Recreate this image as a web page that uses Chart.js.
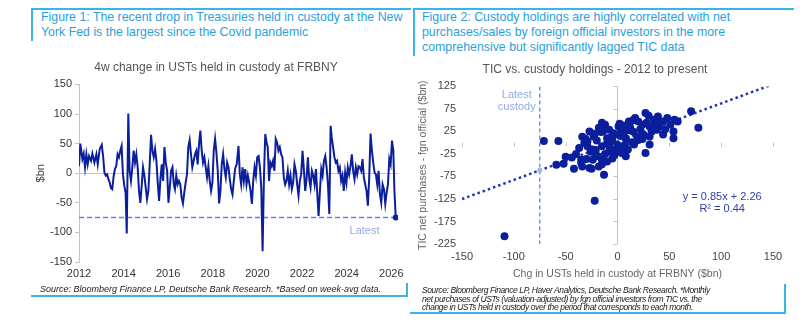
<!DOCTYPE html>
<html>
<head>
<meta charset="utf-8">
<script src="https://cdn.jsdelivr.net/npm/chart.js@4/dist/chart.umd.min.js"></script>
<style>
  html,body{margin:0;padding:0;background:#fff;}
  #wrap{position:relative;width:810px;height:329px;overflow:hidden;font-family:"Liberation Sans",Arial,sans-serif;}
  .box{position:absolute;border-left:2px solid #3ab4e6;border-top:2px solid #3ab4e6;box-sizing:border-box;}
  .ttl{position:absolute;color:#2c9fd9;font-size:12.35px;line-height:15px;white-space:nowrap;}
  .foot{position:absolute;font-style:italic;color:#222;white-space:nowrap;}
  .hl{position:absolute;border-top:2px solid #3ab4e6;height:0;}
  .vl{position:absolute;border-left:2px solid #3ab4e6;width:0;}
  canvas{position:absolute;top:0;}
</style>
</head>
<body>
<div id="wrap">
  <div class="box" style="left:31px;top:8px;width:380px;height:33px;"></div>
  <div class="ttl" style="left:41px;top:10px;">Figure 1: The recent drop in Treasuries held in custody at the New<br>York Fed is the largest since the Covid pandemic</div>
  <div class="box" style="left:413px;top:8px;width:381px;height:48px;"></div>
  <div class="ttl" style="left:422px;top:10px;">Figure 2: Custody holdings are highly correlated with net<br>purchases/sales by foreign official investors in the more<br>comprehensive but significantly lagged TIC data</div>

  <canvas id="c1" width="410" height="329" style="left:0;"></canvas>
  <canvas id="c2" width="400" height="329" style="left:410px;"></canvas>

  <div class="foot" style="left:40px;top:284px;font-size:9px;line-height:11px;">Source: Bloomberg Finance LP, Deutsche Bank Research. *Based on week-avg data.</div>
  <div class="hl" style="left:31px;top:295px;width:377px;"></div>
  <div class="vl" style="left:406px;top:283px;height:14px;"></div>

  <div class="foot" style="left:422px;top:286px;font-size:8.5px;line-height:8.5px;letter-spacing:-0.4px;">Source: Bloomberg Finance LP, Haver Analytics, Deutsche Bank Research. *Monthly<br>net purchases of USTs (valuation-adjusted) by fgn official investors from TIC vs. the<br>change in USTs held in custody over the period that corresponds to each month.</div>
  <div class="hl" style="left:410px;top:312px;width:376px;"></div>
  <div class="vl" style="left:784px;top:284px;height:30px;"></div>
</div>
<script>
// ---------- Figure 1 data ----------
const weekDates = [
  2012.00,2012.06,2012.15,2012.21,2012.27,2012.33,2012.39,2012.45,2012.54,2012.60,
  2012.69,2012.78,2012.84,2012.93,2013.02,2013.08,2013.14,2013.20,2013.26,2013.32,
  2013.38,2013.43,2013.49,2013.55,2013.61,2013.67,2013.73,2013.79,2013.85,2013.91,
  2013.97,2014.03,2014.09,2014.14,2014.21,2014.27,2014.33,2014.39,2014.45,2014.51,
  2014.57,2014.63,2014.69,2014.75,2014.81,2014.87,2014.93,2014.99,2015.05,2015.11,
  2015.17,2015.23,2015.29,2015.35,2015.41,2015.47,2015.53,2015.59,2015.65,2015.71,
  2015.77,2015.83,2015.89,2015.95,2016.01,2016.07,2016.13,2016.19,2016.25,2016.30,
  2016.36,2016.42,2016.48,2016.54,2016.60,2016.66,2016.72,2016.78,2016.84,2016.90,
  2016.96,2017.02,2017.08,2017.14,2017.20,2017.26,2017.32,2017.38,2017.44,2017.50,
  2017.56,2017.62,2017.68,2017.74,2017.80,2017.86,2017.92,2017.98,2018.04,2018.10,
  2018.16,2018.22,2018.28,2018.34,2018.40,2018.46,2018.52,2018.58,2018.64,2018.70,
  2018.76,2018.82,2018.88,2018.94,2019.00,2019.07,2019.15,2019.21,2019.27,2019.33,
  2019.39,2019.45,2019.51,2019.57,2019.63,2019.69,2019.75,2019.81,2019.87,2019.93,
  2019.99,2020.05,2020.11,2020.17,2020.23,2020.29,2020.35,2020.41,2020.46,2020.52,
  2020.58,2020.64,2020.70,2020.76,2020.82,2020.88,2020.94,2021.00,2021.06,2021.12,
  2021.18,2021.24,2021.30,2021.36,2021.42,2021.48,2021.54,2021.60,2021.66,2021.72,
  2021.78,2021.84,2021.90,2021.96,2022.02,2022.08,2022.14,2022.20,2022.26,2022.32,
  2022.38,2022.44,2022.50,2022.56,2022.62,2022.68,2022.74,2022.80,2022.86,2022.92,
  2022.98,2023.04,2023.10,2023.16,2023.22,2023.28,2023.33,2023.39,2023.45,2023.51,
  2023.57,2023.63,2023.69,2023.75,2023.81,2023.87,2023.93,2023.99,2024.05,2024.11,
  2024.17,2024.23,2024.29,2024.35,2024.41,2024.47,2024.53,2024.59,2024.65,2024.71,
  2024.77,2024.83,2024.89,2024.95,2025.01,2025.07,2025.13,2025.19,2025.25,2025.31,
  2025.37,2025.43,2025.49,2025.55,2025.61,2025.67,2025.73,2025.79,2025.85,2025.91,
  2025.97,2026.03,2026.09,2026.14,2026.20
];
const custodyChange4w = [
  12,50,24,33,10,32,15,29,21,33,
  18,32,15,41,48,29,1,-4,-2,-10,
  -16,-25,-27,-6,7,12,32,27,38,46,
  -2,-21,-33,-102,101,4,-13,10,38,18,
  32,10,-30,-50,-21,10,-4,-24,-44,-30,
  15,65,38,27,41,21,-16,-47,-10,15,
  -13,44,18,4,-50,-24,4,10,-19,-27,
  -4,-19,-13,-19,-41,-51,-33,-16,-2,44,
  56,32,10,21,32,38,15,49,72,38,
  18,27,10,-7,12,-13,-30,-16,38,58,
  35,4,-51,-30,15,32,7,-7,18,10,
  -10,-27,-36,-13,8,15,46,-2,-19,10,
  -13,7,-19,-4,-16,-30,-52,-13,10,-4,
  27,29,10,-24,-132,-7,66,52,44,-13,
  18,12,21,4,58,52,38,44,32,27,
  -7,-19,-13,4,-19,-4,-27,-16,15,4,
  -19,-38,-13,-2,38,7,-30,-10,27,-10,
  -24,4,-4,-19,7,-33,-72,-30,7,-4,
  21,29,10,-19,-69,80,60,44,27,18,
  21,4,10,-13,-4,-30,1,-16,10,-2,
  12,32,4,-10,10,-2,12,10,4,24,
  -7,-19,-30,-55,-7,67,38,18,1,-2,
  -19,4,-36,-50,-19,-27,-52,-33,-19,24,
  15,55,38,-30,-75
];
const yearTicks = [2012,2014,2016,2018,2020,2022,2024,2026];
const latestCustody = -75;

// ---------- Figure 2 data ----------
const custodyChgMonthly = [
  -109,-71,-57,-50,-59,-52,-42,-22,71,78,
  -44,-37,-35,-35,-34,-34,-32,-31,-30,-29,
  -29,-27,-27,-25,-24,-24,-23,-21,-21,-19,
  -18,-18,-16,-15,-15,-15,-14,-15,-12,-13,
  -10,-8,-8,-8,-5,-4,-2,1,4,4,
  7,8,8,11,13,14,16,17,19,20,
  20,22,24,25,27,27,31,31,31,35,
  38,39,44,44,51,54,54,55,-10,-5,
  0,3,6,-12,10,12,15,24,28,33,
  36,40,46,48,-20,-3,5,-6,10,2,
  -22,-40,15,30,40,58,-26,-10,0,5
];
const ticNetPurchases = [
  -208,4,4,-31,-49,-47,-58,-129,70,33,
  -33,-12,-38,-45,13,-53,0,9,-36,-8,
  3,25,-56,-58,-15,-38,14,-30,-16,-30,
  33,-53,24,-48,-8,44,25,-38,40,-71,
  -1,29,-5,-19,-35,21,-15,36,27,-23,
  -5,-30,10,47,27,1,-4,55,14,6,
  47,30,40,18,66,-23,36,14,-4,51,
  29,58,47,18,40,25,10,51,10,5,
  -5,15,20,-25,-15,35,25,8,44,25,
  42,36,30,55,5,-28,-12,12,28,42,
  20,-25,50,60,45,47,-20,-42,18,38
];
const fitSlope = 0.85, fitIntercept = 2.26, fitR2 = 0.44;
const fitRange = [-150, 150];
const xTicks2 = [-150,-100,-50,0,50,100,150];

const FONT = '"Liberation Sans", Arial, sans-serif';
const NAVY = '#0b1f9c';
const LIGHT = '#5d83ea';

// ---------- Chart 1 ----------
const leftAnno = {
  id: 'leftAnno',
  afterDatasetsDraw(chart) {
    const {ctx, scales: {x, y}} = chart;
    ctx.save();
    ctx.fillStyle = '#93aaee';
    ctx.font = '11px ' + FONT;
    ctx.textAlign = 'center';
    ctx.textBaseline = 'middle';
    ctx.fillText('Latest', x.getPixelForValue(2024.8), y.getPixelForValue(latestCustody) + 13);
    ctx.restore();
  }
};

const lastIdx = weekDates.length - 1;
new Chart(document.getElementById('c1'), {
  type: 'line',
  data: {
    datasets: [
      {
        data: [{x: weekDates[lastIdx], y: custodyChange4w[lastIdx]}],
        pointRadius: 3, pointBackgroundColor: NAVY, pointBorderWidth: 0, showLine: false
      },
      {
        data: weekDates.map((d, i) => ({x: d, y: custodyChange4w[i]})),
        borderColor: NAVY, borderWidth: 2, pointRadius: 0, tension: 0
      },
      {
        data: [{x: weekDates[0], y: latestCustody}, {x: weekDates[lastIdx], y: latestCustody}],
        borderColor: LIGHT, borderWidth: 1.5, borderDash: [5, 3], pointRadius: 0
      }
    ]
  },
  options: {
    responsive: false, animation: false,
    layout: {padding: {left: 34, right: 12, top: 60, bottom: 47}},
    plugins: {
      legend: {display: false}, tooltip: {enabled: false},
      title: {display: true, text: '4w change in USTs held in custody at FRBNY',
        color: '#555', font: {family: FONT, size: 12, weight: 'normal'}, padding: {top: 0, bottom: 10}}
    },
    scales: {
      x: {
        type: 'linear', min: 2012, max: 2026.3,
        afterBuildTicks: s => { s.ticks = yearTicks.map(v => ({value: v})); },
        afterFit: s => { s.height = 20; },
        ticks: {callback: v => String(v), color: '#333', font: {family: FONT, size: 11}, padding: 5, maxRotation: 0},
        grid: {display: false, drawTicks: false}, border: {display: false}
      },
      y: {
        min: -150, max: 150,
        afterFit: s => { s.width = 45; },
        ticks: {stepSize: 50, color: '#333', font: {family: FONT, size: 11}, padding: 3},
        grid: {color: c => (c.tick && c.tick.value === 0) ? '#c4c4c4' : 'rgba(0,0,0,0)',
               tickColor: '#c4c4c4', tickLength: 4},
        border: {display: true, color: '#c4c4c4'},
        title: {display: true, text: '$bn', color: '#444', font: {family: FONT, size: 11}, padding: {top: 0, bottom: 2}}
      }
    }
  },
  plugins: [leftAnno]
});

// ---------- Chart 2 ----------
const rightAnno = {
  id: 'rightAnno',
  beforeDatasetsDraw(chart) {
    const {ctx, scales: {x, y}} = chart;
    const x0 = x.getPixelForValue(0), y0 = y.getPixelForValue(0);
    ctx.save();
    ctx.strokeStyle = '#c4c4c4';
    ctx.lineWidth = 1;
    ctx.beginPath();
    x.ticks.forEach(t => { const px = Math.round(x.getPixelForValue(t.value)) + 0.5; ctx.moveTo(px, y0); ctx.lineTo(px, y0 + 4); });
    y.ticks.forEach(t => { const py = Math.round(y.getPixelForValue(t.value)) + 0.5; ctx.moveTo(x0 - 4, py); ctx.lineTo(x0, py); });
    ctx.stroke();
    ctx.restore();
  },
  afterDatasetsDraw(chart) {
    const {ctx, scales: {x, y}, chartArea} = chart;
    ctx.save();
    ctx.textAlign = 'center';
    ctx.textBaseline = 'middle';
    ctx.fillStyle = '#93aaee';
    ctx.font = '11px ' + FONT;
    const lx = x.getPixelForValue(latestCustody) - 23;
    ctx.fillText('Latest', lx, chartArea.top + 9);
    ctx.fillText('custody', lx, chartArea.top + 21);
    ctx.fillStyle = '#2a3fae';
    const ex = x.getPixelForValue(101);
    ctx.fillText('y = ' + fitSlope.toFixed(2) + 'x + ' + fitIntercept.toFixed(2), ex, y.getPixelForValue(-120));
    ctx.fillText('R\u00b2 = ' + fitR2.toFixed(2), ex, y.getPixelForValue(-147));
    ctx.restore();
  }
};

new Chart(document.getElementById('c2'), {
  type: 'scatter',
  data: {
    datasets: [
      {
        data: custodyChgMonthly.map((v, i) => ({x: v, y: ticNetPurchases[i]})),
        pointRadius: 4, pointBackgroundColor: NAVY, pointBorderWidth: 0
      },
      {
        data: [{x: latestCustody, y: fitSlope * latestCustody + fitIntercept}],
        pointRadius: 2.5, pointBackgroundColor: '#9fb4f0', pointBorderWidth: 0
      },
      {
        data: fitRange.map(v => ({x: v, y: fitSlope * v + fitIntercept})),
        showLine: true, borderColor: '#1f35b0', borderWidth: 2.5, borderDash: [2.5, 3], pointRadius: 0
      },
      {
        data: [{x: latestCustody, y: 125}, {x: latestCustody, y: -225}],
        showLine: true, borderColor: LIGHT, borderWidth: 1.3, borderDash: [4, 3], pointRadius: 0
      }
    ]
  },
  options: {
    responsive: false, animation: false,
    layout: {padding: {left: 7, right: 37, top: 62, bottom: 49}},
    plugins: {
      legend: {display: false}, tooltip: {enabled: false},
      title: {display: true, text: 'TIC vs. custody holdings - 2012 to present',
        color: '#555', font: {family: FONT, size: 12, weight: 'normal'}, padding: {top: 0, bottom: 10}}
    },
    scales: {
      x: {
        type: 'linear', min: -150, max: 150,
        afterBuildTicks: s => { s.ticks = xTicks2.map(v => ({value: v})); },
        afterFit: s => { s.height = 36; },
        ticks: {color: '#444', font: {family: FONT, size: 11}, padding: 6, maxRotation: 0},
        grid: {color: c => (c.tick && c.tick.value === 0) ? '#c4c4c4' : 'rgba(0,0,0,0)', drawTicks: false},
        border: {display: false},
        title: {display: true, text: 'Chg in USTs held in custody at FRBNY ($bn)', color: '#666',
          font: {family: FONT, size: 10.5}, padding: {top: 3, bottom: 0}}
      },
      y: {
        min: -225, max: 125,
        afterFit: s => { s.width = 45; },
        ticks: {stepSize: 50, color: '#444', font: {family: FONT, size: 11}, padding: 6},
        grid: {color: c => (c.tick && c.tick.value === 0) ? '#c4c4c4' : 'rgba(0,0,0,0)', drawTicks: false},
        border: {display: false},
        title: {display: true, text: 'TIC net purchases - fgn official ($bn)', color: '#666',
          font: {family: FONT, size: 10.5}, padding: {top: 0, bottom: 2}}
      }
    }
  },
  plugins: [rightAnno]
});
</script>
</body>
</html>
